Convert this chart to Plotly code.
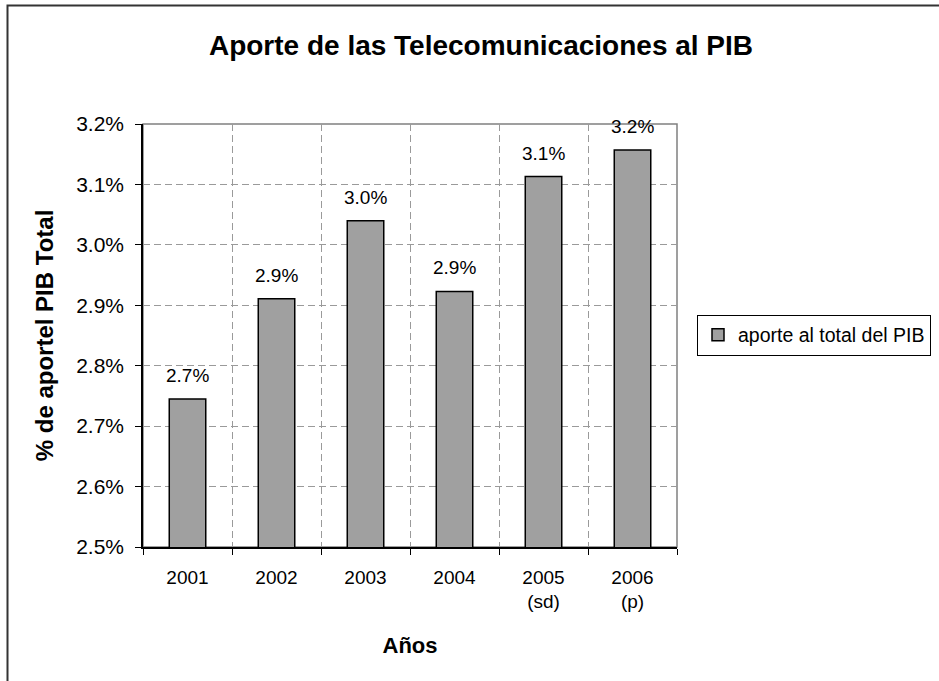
import plotly.graph_objects as go

# data
years = ["2001", "2002", "2003", "2004", "2005<br>(sd)", "2006<br>(p)"]
aporte = [0.02745, 0.02911, 0.03040, 0.02923, 0.03113, 0.03157]
y_ticks = [0.025, 0.026, 0.027, 0.028, 0.029, 0.030, 0.031, 0.032]

W, H = 939, 681
L, R, T, B = 143, 262, 124, 134
pw, ph = W - L - R, H - T - B

FONT = "Liberation Sans, Arial, sans-serif"
GRID = "7px,4px"

fig = go.Figure()
fig.add_trace(go.Bar(
    x=years,
    y=aporte,
    name="aporte al total del PIB",
    width=0.41,
    marker=dict(color="#a0a0a0", line=dict(color="black", width=1.5)),
))

# value labels above bars (x by category index)
for i, v in enumerate(aporte):
    fig.add_annotation(x=i, y=v, text=f"{v*100:.1f}%", showarrow=False,
                       yanchor="bottom", yshift=11,
                       font=dict(size=19, color="black", family=FONT))

def px_x(p):
    return (p - L) / pw

def px_y(p):
    return (H - B - p) / ph

# plot frame (gray) and outer chart border
fig.add_shape(type="rect", xref="paper", yref="paper", x0=0, x1=1, y0=0, y1=1,
              line=dict(color="#808080", width=1.5), layer="below")
fig.add_shape(type="rect", xref="paper", yref="paper",
              x0=px_x(7.5), x1=px_x(960), y0=px_y(700), y1=px_y(5.5),
              line=dict(color="#333333", width=2))

fig.update_layout(
    width=W, height=H,
    margin=dict(l=L, r=R, t=T, b=B, autoexpand=False),
    paper_bgcolor="white", plot_bgcolor="white",
    font=dict(family=FONT, color="black"),
    title=dict(text="<b>Aporte de las Telecomunicaciones al PIB</b>",
               xref="container", x=481 / W, xanchor="center",
               yref="container", y=1 - 45 / H, yanchor="middle",
               font=dict(size=28, family=FONT, color="black")),
    showlegend=True,
    legend=dict(x=px_x(697), y=px_y(335), xanchor="left", yanchor="middle",
                bordercolor="black", borderwidth=1, bgcolor="white",
                font=dict(size=19.5, family=FONT, color="black"),
                itemwidth=30, tracegroupgap=0),
    bargap=0.59,
)

fig.update_xaxes(
    type="category", range=[-0.5, 5.5],
    tickson="boundaries", ticks="outside", ticklen=6, tickcolor="black",
    showline=True, linecolor="black", linewidth=1.5,
    showgrid=True, gridcolor="#9a9a9a", griddash=GRID, gridwidth=1,
    tickfont=dict(size=19, family=FONT), ticklabelstandoff=12,
    title=dict(text="<b>Años</b>", font=dict(size=22, family=FONT), standoff=26),
)
fig.update_yaxes(
    range=[0.025, 0.032], tickvals=y_ticks, tickformat=".1%",
    ticks="outside", ticklen=6, tickcolor="black",
    showline=True, linecolor="black", linewidth=1.5,
    showgrid=True, gridcolor="#9a9a9a", griddash=GRID, gridwidth=1,
    zeroline=False,
    tickfont=dict(size=21, family=FONT), ticklabelstandoff=7,
    title=dict(text="<b>% de aportel PIB Total</b>", font=dict(size=24, family=FONT),
               standoff=16),
)

fig.write_html("out.html", config={"displayModeBar": False},
               post_script="document.body.style.margin='0';")
